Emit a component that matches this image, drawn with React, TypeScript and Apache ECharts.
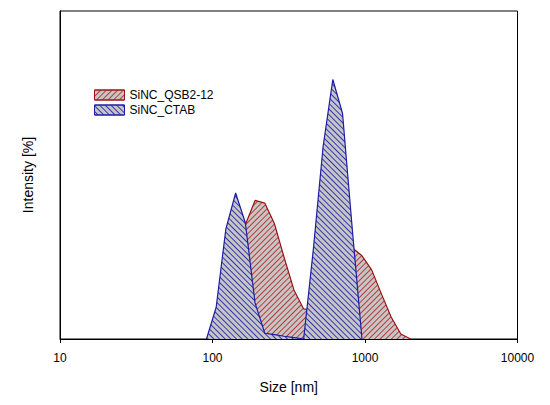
import React, { useEffect, useRef } from "react";
import * as echarts from "echarts";

// Size bins [nm]
const SIZES = [91.28, 105.7, 122.4, 141.8, 164.2, 190.1, 220.2, 255.0, 295.3, 342.0, 396.1, 458.7, 531.2, 615.1, 712.4, 825.0, 955.4, 1106, 1281, 1484, 1718, 1990];
// Intensity [%]
const QSB = [null, 0, 0.61, 4.2, 8.71, 10.56, 10.36, 8.78, 6.19, 3.74, 2.29, 2.14, 3.06, 4.58, 6.11, 6.95, 6.34, 5.27, 3.44, 1.68, 0.38, 0];
const CTAB = [0, 2.42, 8.4, 11.13, 8.86, 2.75, 0.44, 0.33, 0.21, 0.11, 0, 6.87, 14.67, 19.78, 17.19, 8.4, 0, null, null, null, null, null];
const SERIES_NAMES = ["SiNC_QSB2-12", "SiNC_CTAB"];
const X_TICKS = [10, 100, 1000, 10000];

const FONT = "'Liberation Sans', Arial, sans-serif";
const GREY = "#c6c6c6";
const RED_LINE = "#9a1414";
const RED_HATCH = "#b83a3a";
const BLUE_LINE = "#1c1ca6";
const BLUE_HATCH = "#3535b0";

const redDecal = {
  symbol: "rect",
  symbolSize: 1,
  dashArrayX: [1, 0],
  dashArrayY: [1, 3],
  rotation: -Math.PI / 4,
  color: RED_HATCH,
};
const blueDecal = {
  symbol: "rect",
  symbolSize: 1,
  dashArrayX: [1, 0],
  dashArrayY: [1, 3],
  rotation: Math.PI / 4,
  color: BLUE_HATCH,
};

export default function App() {
  const ref = useRef<HTMLDivElement>(null);
  useEffect(() => {
    if (!ref.current) return;
    const chart = echarts.init(ref.current, null, { renderer: "svg" });
    const pairs = (vals: (number | null)[]) => SIZES.map((s, i) => [s, vals[i]]);
    chart.setOption({
      animation: false,
      backgroundColor: "#fff",
      textStyle: { fontFamily: FONT },
      grid: {
        left: 60,
        right: 32.5,
        top: 11,
        bottom: 66,
        show: true,
        borderColor: "#000",
        borderWidth: 1,
      },
      legend: {
        orient: "vertical",
        left: 89,
        top: 84,
        itemWidth: 30,
        itemHeight: 10,
        itemGap: 3,
        textStyle: { fontSize: 12, color: "#000", fontFamily: FONT },
        data: [
          { name: SERIES_NAMES[0], icon: "rect", itemStyle: { color: GREY, borderColor: RED_LINE, borderWidth: 1 } },
          { name: SERIES_NAMES[1], icon: "rect", itemStyle: { color: GREY, borderColor: BLUE_LINE, borderWidth: 1 } },
        ],
      },
      xAxis: {
        type: "log",
        logBase: 10,
        min: X_TICKS[0],
        max: X_TICKS[X_TICKS.length - 1],
        name: "Size [nm]",
        nameLocation: "middle",
        nameGap: 41,
        nameTextStyle: { fontSize: 14, color: "#000", fontFamily: FONT },
        axisLine: { show: true, lineStyle: { color: "#000", width: 1 } },
        axisTick: { show: true, inside: false, length: 4, lineStyle: { color: "#000" } },
        minorTick: { show: false },
        axisLabel: {
          fontSize: 12,
          color: "#000",
          margin: 13,
          fontFamily: FONT,
          formatter: (v: number) => String(Math.round(v)),
        },
        splitLine: { show: false },
      },
      yAxis: {
        type: "value",
        min: 0,
        max: 25,
        name: "Intensity [%]",
        nameLocation: "middle",
        nameGap: 25,
        nameTextStyle: { fontSize: 14, color: "#000", fontFamily: FONT },
        axisLine: { show: true, lineStyle: { color: "#000", width: 1 } },
        axisTick: { show: false },
        axisLabel: { show: false },
        splitLine: { show: false },
      },
      series: [
        {
          name: SERIES_NAMES[0],
          type: "line",
          data: pairs(QSB),
          symbol: "none",
          connectNulls: false,
          lineStyle: { color: RED_LINE, width: 1.2, decal: redDecal },
          itemStyle: { color: GREY, decal: redDecal },
          areaStyle: { color: GREY, opacity: 1 },
          z: 2,
        },
        {
          name: SERIES_NAMES[1],
          type: "line",
          data: pairs(CTAB),
          symbol: "none",
          connectNulls: false,
          lineStyle: { color: BLUE_LINE, width: 1.2, decal: blueDecal },
          itemStyle: { color: GREY, decal: blueDecal },
          areaStyle: { color: GREY, opacity: 1 },
          z: 3,
        },
      ],
    });
    return () => chart.dispose();
  }, []);
  return (
    <div
      ref={ref}
      style={{ position: "fixed", left: 0, top: 0, width: 550, height: 405, background: "#fff" }}
    />
  );
}
